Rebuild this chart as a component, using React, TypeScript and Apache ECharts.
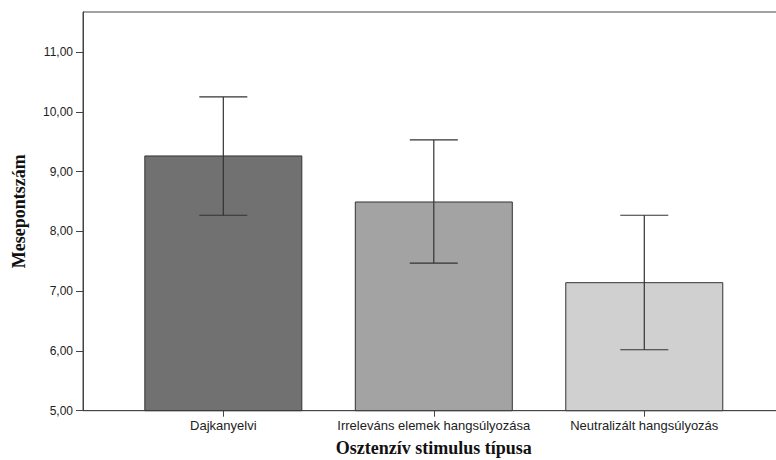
import React, { useEffect, useRef } from "react";
import * as echarts from "echarts";

const categories = ["Dajkanyelvi", "Irreleváns elemek hangsúlyozása", "Neutralizált hangsúlyozás"];
const means = [9.27, 8.5, 7.15];
const ciLower = [8.27, 7.47, 6.02];
const ciUpper = [10.25, 9.53, 8.27];
const barColors = ["#717171", "#a3a3a3", "#d0d0d0"];
const yTicks = [5, 6, 7, 8, 9, 10, 11];
const xPositions = [1, 2, 3];

export default function App() {
  const ref = useRef<HTMLDivElement>(null);
  useEffect(() => {
    if (!ref.current) return;
    const chart = echarts.init(ref.current, null, { renderer: "svg" });
    const textColor = "#222";
    chart.setOption({
      animation: false,
      backgroundColor: "#ffffff",
      grid: {
        left: 83,
        top: 12,
        bottom: 49.3,
        right: -8.6,
        outerBoundsMode: "none",
        containLabel: false,
        show: true,
        borderColor: "#444",
        borderWidth: 1,
        backgroundColor: "transparent",
      },
      xAxis: {
        type: "value",
        min: 1 / 3,
        max: 11 / 3,
        name: "Osztenzív stimulus típusa",
        nameLocation: "middle",
        nameGap: 28,
        nameTextStyle: {
          fontFamily: "Liberation Serif",
          fontWeight: "bold",
          fontSize: 18,
          color: "#111",
        },
        axisLine: { show: true, lineStyle: { color: "#444", width: 1 } },
        axisTick: {
          show: true,
          length: 6,
          customValues: xPositions,
          lineStyle: { color: "#444" },
        },
        axisLabel: {
          customValues: xPositions,
          margin: 8,
          fontFamily: "Liberation Sans",
          fontSize: 13,
          color: textColor,
          formatter: (v: number) => categories[Math.round(v) - 1] ?? "",
        },
        splitLine: { show: false },
      },
      yAxis: {
        type: "value",
        min: 5,
        max: 11.67,
        name: "Mesepontszám",
        nameLocation: "middle",
        nameRotate: 90,
        nameGap: 55,
        nameTextStyle: {
          fontFamily: "Liberation Serif",
          fontWeight: "bold",
          fontSize: 18,
          color: "#111",
        },
        axisLine: { show: true, lineStyle: { color: "#444", width: 1 } },
        axisTick: {
          show: true,
          length: 7,
          customValues: yTicks,
          lineStyle: { color: "#444" },
        },
        axisLabel: {
          customValues: yTicks,
          margin: 10,
          fontFamily: "Liberation Sans",
          fontSize: 12,
          color: textColor,
          formatter: (v: number) => v.toFixed(2).replace(".", ","),
        },
        splitLine: { show: false },
      },
      series: [
        {
          type: "bar",
          barWidth: 158,
          data: means.map((m, i) => ({
            value: [xPositions[i], m],
            itemStyle: { color: barColors[i], borderColor: "#333", borderWidth: 1 },
          })),
        },
        {
          type: "custom",
          data: means.map((_, i) => [xPositions[i], ciLower[i], ciUpper[i]]),
          renderItem: (params: any, api: any) => {
            const x = api.value(0);
            const lo = api.coord([x, api.value(1)]);
            const hi = api.coord([x, api.value(2)]);
            const half = 24;
            const style = { stroke: "#333", lineWidth: 1.2 };
            return {
              type: "group",
              children: [
                { type: "line", shape: { x1: hi[0], y1: hi[1], x2: lo[0], y2: lo[1] }, style },
                { type: "line", shape: { x1: hi[0] - half, y1: hi[1], x2: hi[0] + half, y2: hi[1] }, style },
                { type: "line", shape: { x1: lo[0] - half, y1: lo[1], x2: lo[0] + half, y2: lo[1] }, style },
              ],
            };
          },
          z: 10,
        },
      ],
    });
    return () => chart.dispose();
  }, []);
  return <div ref={ref} style={{ width: 776, height: 460, position: "fixed", left: 0, top: 0 }} />;
}
